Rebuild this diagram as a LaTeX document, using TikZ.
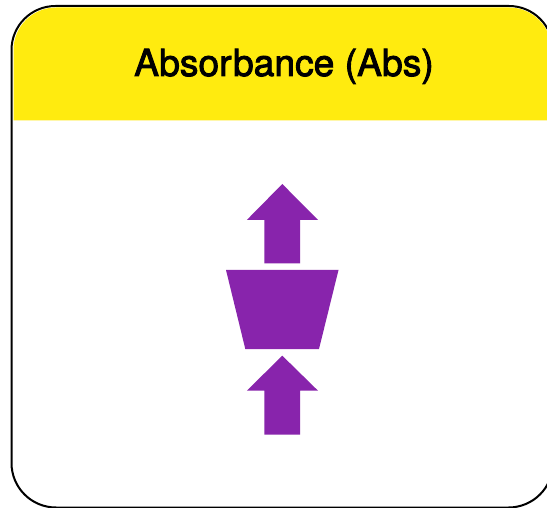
\documentclass[tikz,border=0pt]{standalone}
\usepackage{fontspec}
\setmainfont{TeX Gyre Heros}
\definecolor{headyellow}{HTML}{FFEB0F}
\definecolor{shapepurple}{HTML}{8824AC}
\tikzset{
  frame/.style={draw=black,line width=2pt,fill=white},
  head/.style={fill=headyellow},
  mark shape/.style={fill=shapepurple},
  titletext/.style={font=\fontsize{37.2}{40}\selectfont,anchor=base,inner sep=0pt}
}
\begin{document}
\begin{tikzpicture}[x=1pt,y=-1pt]
\useasboundingbox (0,0) rectangle (547,508);
\clip (0,0) rectangle (547,508);
\fill[white] (0,0) rectangle (547,508);
% frame
\draw[frame] (11.5,50) arc[start angle=180,end angle=270,radius=44] -- (509,6)
  arc[start angle=270,end angle=360,radius=44] -- (553,463)
  arc[start angle=0,end angle=90,radius=44.5] -- (56,507.5)
  arc[start angle=90,end angle=180,radius=44.5] -- cycle;
% header band
\fill[head] (13.5,120.5) -- (13.5,50) arc[start angle=180,end angle=270,radius=42.5] -- (509,7.5)
  arc[start angle=270,end angle=360,radius=42.5] -- (551.5,120.5) -- cycle;
\node[titletext] (title) at (284,76) {\special{pdf:code q 2 Tr 0.9 w}Absor\kern1.5pt bance (Abs)\special{pdf:code Q}};
% upper arrow
\fill[mark shape] (282.3,184) -- (318,220) -- (300,220) -- (300,263.5) -- (264.3,263.5) -- (264.3,220) -- (246.8,220) -- cycle;
% trapezoid
\fill[mark shape] (226,270) -- (338.5,270) -- (319,349) -- (245.3,349) -- cycle;
% lower arrow
\fill[mark shape] (282.3,355.7) -- (318,390.7) -- (300,390.7) -- (300,434.5) -- (264.3,434.5) -- (264.3,390.7) -- (246.8,390.7) -- cycle;
\end{tikzpicture}
\end{document}
